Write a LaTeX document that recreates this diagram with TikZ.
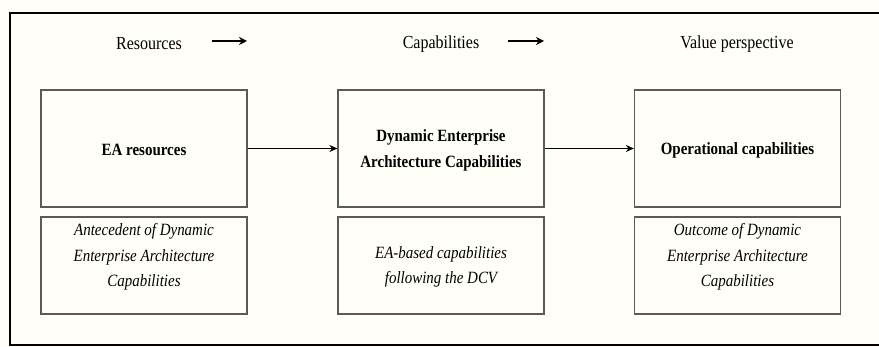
\documentclass[tikz,border=0pt]{standalone}
\usepackage{fontspec}
\setmainfont{Liberation Serif}
\newfontfamily\tallserif[FakeStretch=0.87]{Liberation Serif}
\usetikzlibrary{arrows.meta}
\definecolor{bg}{HTML}{FFFFF8}
\definecolor{boxline}{HTML}{5A5A5A}
\begin{document}
\begin{tikzpicture}[x=1pt,y=-1pt,
  boxshape/.style={draw=boxline, line width=1.2pt, minimum width=206pt, minimum height=117pt, inner sep=0pt},
  lowshape/.style={draw=boxline, line width=1.2pt, minimum width=206pt, minimum height=97pt, inner sep=0pt},
  head/.style={font=\tallserif\fontsize{18.4}{21}\selectfont, inner sep=0pt},
  maintext/.style={font=\tallserif\fontsize{17.2}{26}\selectfont\bfseries, align=center, inner sep=0pt},
  subtext/.style={font=\tallserif\fontsize{17.2}{25.5}\selectfont\itshape, align=center, inner sep=0pt},
  conn/.style={-{Stealth[length=8pt,width=7pt]}, line width=1.8pt},
  headarrow/.style={-{Stealth[length=8pt,width=8pt]}, line width=2pt}]
\useasboundingbox (0,0) rectangle (879,347);
\clip (0,0) rectangle (879,347);
\fill[bg] (0,0) rectangle (879,347);
\draw[line width=2pt] (10,13) rectangle (900,345);
% headers
\node[head] (h1) at (149,44) {Resources};
\node[head] (h2) at (441,44) {Capabilities};
\node[head] (h3) at (737,44) {Value perspective};
\coordinate (a1s) at (212,41); \coordinate (a1e) at (247,41);
\coordinate (a2s) at (508,41); \coordinate (a2e) at (544,41);
\draw[headarrow] (a1s) -- (a1e);
\draw[headarrow] (a2s) -- (a2e);
% upper boxes
\node[boxshape] (b1) at (144,148.5) {};
\node[boxshape] (b2) at (441,148.5) {};
\node[boxshape] (b3) at (737.5,148.5) {};
\node[maintext] (t1) at (144,150) {EA resources};
\node[maintext] (t2) at (441,150) {Dynamic Enterprise\\Architecture Capabilities};
\node[maintext] (t3) at (737.5,150) {Operational capabilities};
% lower boxes
\node[lowshape] (l1) at (144,265.5) {};
\node[lowshape] (l2) at (441,265.5) {};
\node[lowshape] (l3) at (737.5,265.5) {};
\node[subtext] (s1) at (144,257) {Antecedent of Dynamic\\Enterprise Architecture\\Capabilities};
\node[subtext] (s2) at (441,267) {EA-based capabilities\\following the DCV};
\node[subtext] (s3) at (737.5,257) {Outcome of Dynamic\\Enterprise Architecture\\Capabilities};
% connectors
\draw[conn] (b1.east) -- (b2.west);
\draw[conn] (b2.east) -- (b3.west);
\end{tikzpicture}
\end{document}
